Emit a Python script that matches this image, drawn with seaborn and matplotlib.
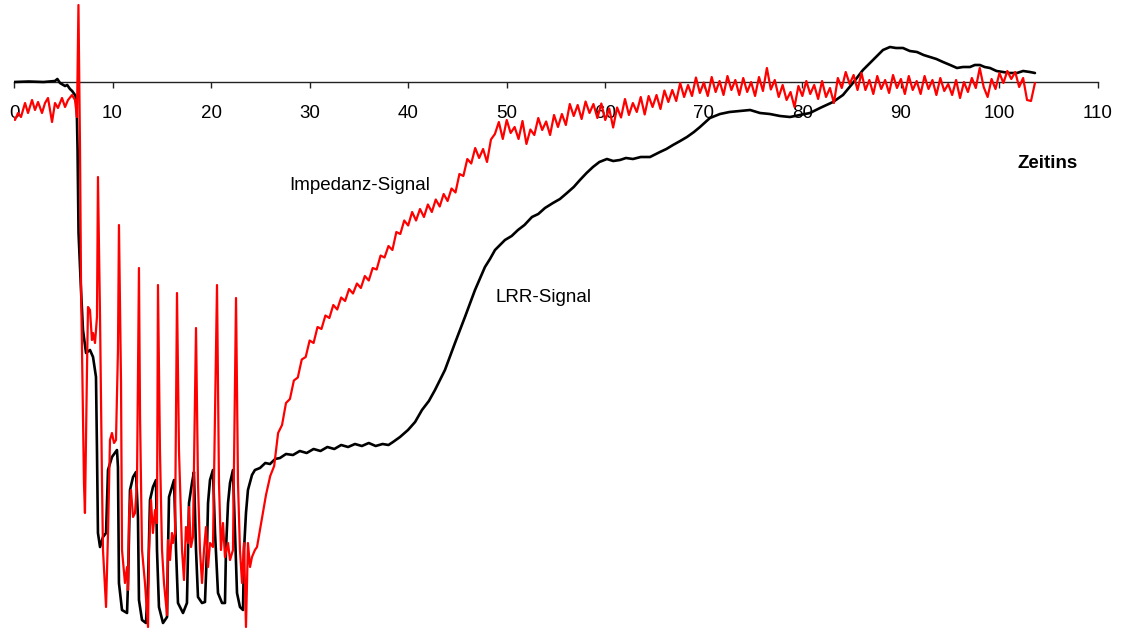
import numpy as np
import pandas as pd
import matplotlib
matplotlib.use("Agg")
import matplotlib.pyplot as plt
import seaborn as sns

# ---------------- data (time in s, signal in relative units) ----------------
lrr_t = [0, 1.5, 3, 4.16, 4.4, 4.67, 5.18, 5.4, 5.68, 5.9, 6.19, 6.35, 6.45, 6.55, 6.8, 7.0,
         7.31, 7.71, 8.02, 8.32, 8.42, 8.52, 8.73, 9.03, 9.34, 9.54, 9.94, 10.45, 10.55, 10.65,
         10.96, 11.47, 11.57, 11.77, 12.08, 12.38, 12.58, 12.68, 12.99, 13.39, 13.60, 13.80,
         14.10, 14.41, 14.51, 14.71, 15.12, 15.53, 15.63, 15.73, 16.03, 16.24, 16.44, 16.64,
         17.15, 17.55, 17.66, 17.76, 18.06, 18.26, 18.47, 18.67, 19.08, 19.38, 19.58, 19.69,
         19.89, 20.19, 20.40, 20.70, 21.11, 21.41, 21.51, 21.72, 21.92, 22.22, 22.43, 22.63,
         22.93, 23.24, 23.34, 23.54, 23.74, 24.15, 24.45, 24.96, 25.5, 25.98, 26.5, 26.99,
         27.6, 28.31, 29.0, 29.7, 30.4, 31.1, 31.8, 32.5, 33.2, 33.9, 34.6, 35.3, 36.0, 36.7,
         37.4, 38.0, 38.46, 39.17, 39.98, 40.7, 41.40, 42.1, 42.72, 43.73, 44.75, 45.76,
         46.78, 47.79, 48.3, 48.81, 49.82, 50.5, 51.14, 51.8, 52.56, 53.2, 53.88, 54.69,
         55.4, 56.11, 56.8, 57.43, 58.1, 58.75, 59.4, 60.17, 60.8, 61.49, 62.1, 62.81, 63.6,
         64.54, 65.55, 66.2, 66.87, 67.6, 68.29, 69.0, 69.61, 70.62, 71.64, 72.6, 73.67,
         74.7, 75.70, 76.7, 77.73, 78.74, 79.76, 80.77, 81.79, 83.11, 84.12, 85.13, 86.15,
         87.16, 88.18, 88.89, 89.5, 90.21, 90.9, 91.63, 92.3, 92.96, 93.6, 94.27, 95.0,
         95.69, 96.3, 97.01, 97.5, 98.02, 98.5, 99.04, 99.7, 100.36, 101.0, 101.78, 102.4,
         103.09, 103.6]
lrr_v = [0, 0.1, 0, 0.2, 0.6, -0.2, -0.8, -0.6, -1.4, -1.8, -2.6, -3.4, -13.6, -30.2, -41.6, -49.6,
         -54.2, -53.6, -55, -59, -73.6, -90.2, -93, -91, -90.2, -77.6, -75, -73.6, -77, -100.2,
         -105.6, -106.2, -100.2, -81.6, -79, -78, -87, -103.6, -107.6, -108.2, -100.2, -83.6,
         -81, -79.6, -93.6, -105, -108.2, -107, -93.6, -83, -81, -79.6, -93.6, -104.2,
         -106.2, -104.2, -93.6, -84.2, -80.2, -78, -93.6, -103, -104.2, -104, -93.6, -84.2,
         -79.6, -77.6, -90.2, -102.2, -104.2, -104.2, -93.6, -84.2, -80.2, -77.6, -90.2, -102.2,
         -105, -105.6, -93.6, -86.2, -81.6, -78.6, -77.6, -77.2, -76.2, -76.4, -75.4, -75.2,
         -74.4, -74.6, -73.8, -74.2, -73.4, -73.8, -73.0, -73.4, -72.6, -73.0, -72.4, -72.8, -72.2, -72.8,
         -72.4, -72.6, -72, -71, -69.6, -68, -65.6, -63.8, -61.6, -57.6, -52.2, -47,
         -41.6, -37, -35.4, -33.6, -31.6, -30.8, -29.6, -28.6, -27, -26.4, -25.2, -24.2,
         -23.4, -22.2, -21.0, -19.6, -18.2, -17, -16.0, -15.4, -15.8, -15.6, -15.2, -15.4, -15.0,
         -15, -14, -13.4, -12.6, -11.8, -11, -10.0, -9, -7.2, -6.4, -6.0, -5.8,
         -5.6, -6.2, -6.4, -6.8, -7, -6.6, -6.2, -5.2, -4, -2.6, -0.2, 2.4,
         4.4, 6.4, 7, 6.8, 6.8, 6.2, 6, 5.4, 5, 4.6, 4, 3.4,
         2.8, 3.0, 3, 3.4, 3.4, 3.0, 2.8, 2.2, 2, 1.8, 1.8, 2.2,
         2, 1.8]

# Impedance signal: stimulation phase (irregular samples)
imp_t = [0, 0.1, 0.41, 0.71, 1.12, 1.42, 1.83, 2.13, 2.44, 2.84, 3.15, 3.45, 3.86, 4.16, 4.46,
         4.87, 5.18, 5.48, 5.89, 6.19, 6.39, 6.54, 6.70, 6.80, 7.00, 7.10, 7.20, 7.31, 7.41,
         7.51, 7.71, 7.91, 8.02, 8.22, 8.42, 8.52, 8.73, 8.93, 9.03, 9.34, 9.54, 9.74, 9.94,
         10.15, 10.35, 10.55, 10.65, 10.86, 10.96, 11.26, 11.47, 11.57, 11.67, 11.87, 12.08,
         12.28, 12.48, 12.68, 12.79, 12.99, 13.29, 13.60, 13.70, 13.90, 14.10, 14.31, 14.51,
         14.61, 14.81, 15.02, 15.22, 15.53, 15.63, 15.83, 16.03, 16.13, 16.34, 16.54, 16.74,
         17.05, 17.25, 17.45, 17.66, 17.76, 17.96, 18.16, 18.47, 18.67, 18.87, 19.08, 19.28,
         19.48, 19.69, 19.89, 20.19, 20.60, 20.80, 21.0, 21.21, 21.41, 21.72, 21.92, 22.22,
         22.53, 22.73, 22.93, 23.14, 23.34, 23.54, 23.74, 23.95, 24.15, 24.45, 24.66, 24.96,
         25.27, 25.57]
imp_v = [-7.2, -7.6, -6.2, -7, -4.2, -6.2, -3.6, -5.6, -4, -6.2, -4.2, -3.2, -8, -4.2, -5.2,
         -3.2, -5, -3.6, -2.6, -3.6, -7, 15.4, -13.6, -40.2, -67, -80.2, -86.2, -70.2, -57,
         -45, -45.6, -51.6, -50.2, -52.2, -47, -19, -47, -80.2, -93.6, -105, -90.2, -71.6, -70.2,
         -72.2, -71.6, -53.6, -28.6, -60.2, -93.6, -100.2, -97, -101.6, -87, -81.6, -87,
         -86.2, -80.2, -37.2, -67, -93.6, -100.2, -109, -93.6, -83.6, -90.2, -85.6, -88.2,
         -40.6, -73.6, -93.6, -100.2, -106.6, -91.6, -95.6, -90.2, -92.2, -90.2, -42.2, -73.6,
         -93.6, -99.6, -89, -92.2, -85, -93, -91, -49.2, -80.2, -93.6, -100.2, -93.6,
         -89, -97, -92.2, -93, -40.6, -80.2, -93.6, -88.2, -95, -92.2, -95.6, -93.6,
         -43.2, -80.2, -93.6, -100.2, -92.2, -109, -92.2, -97, -95, -93.6, -93, -89.6,
         -86.2, -82.6]

# Impedance signal: recovery phase, sampled every 0.4 s from 26.0 s
imp_tail_start = 26.0
imp_tail_step = 0.4
imp_tail_v = [-78.8, -76.8, -70.2, -68.6, -64.2, -63.4, -59.7, -59.1, -55.5, -55.0,
              -51.7, -52.2, -49.0, -49.4, -46.7, -47.2, -44.6, -45.5, -43.1, -43.8,
              -41.4, -42.3, -40.3, -41.2, -38.8, -39.7, -37.2, -37.5, -34.7, -35.1,
              -32.8, -33.6, -30.0, -30.4, -27.7, -28.7, -26.0, -27.7, -25.4, -27.0,
              -24.5, -26.0, -23.5, -24.9, -22.4, -23.8, -21.3, -22.1, -18.4, -18.8,
              -15.4, -16.3, -13.2, -15.2, -13.4, -16.0, -11.5, -10.4, -8.0, -11.4,
              -7.6, -10.2, -9.0, -11.4, -7.8, -12.4, -9.5, -10.6, -7.2, -9.6,
              -7.9, -10.6, -6.6, -9.0, -6.4, -8.6, -4.4, -6.8, -4.6, -7.4,
              -3.9, -6.2, -4.4, -7.2, -4.3, -7.6, -5.3, -9.1, -5.1, -7.1,
              -3.4, -6.6, -4.2, -6.0, -3.0, -6.5, -2.8, -5.0, -2.6, -5.4,
              -1.7, -4.0, -1.6, -3.8, -0.2, -3.0, -0.6, -2.8, 0.9, -2.2,
              -0.1, -2.8, 1.0, -2.0, 0.2, -2.6, 1.2, -1.6, 0.4, -2.6,
              0.8, -2.0, 0.0, -2.8, 1.0, -1.8, 2.8, -1.5, 0.4, -3.0,
              -0.6, -3.6, -2.0, -5.0, -0.8, -2.8, 0.2, -2.4, -0.6, -3.4,
              0.2, -3.0, -1.2, -4.2, 0.8, -1.2, 2.0, -0.4, 1.4, -1.6,
              1.8, -1.6, 0.4, -2.4, 1.2, -1.4, 0.4, -2.2, 1.4, -1.2,
              0.6, -2.4, 1.2, -1.6, 0.2, -2.4, 1.2, -1.4, 0.4, -2.6,
              0.8, -1.8, -0.4, -2.6, 0.4, -3.2, 0.0, -2.0, 0.8, -1.2,
              2.8, -1.0, -3.0, 0.6, -1.4, 1.8, -0.2, 2.2, 0.6, 2.0,
              -1.0, 0.8, -3.6, -3.8, -0.2]

x_ticks = [0, 10, 20, 30, 40, 50, 60, 70, 80, 90, 100, 110]
label_imp = "Impedanz-Signal"
label_lrr = "LRR-Signal"
x_title = "Zeitins"

# ---------------- build frames ----------------
imp_tail_t = imp_tail_start + imp_tail_step * np.arange(len(imp_tail_v))
df_imp = pd.DataFrame({"t": list(imp_t) + list(imp_tail_t), "v": list(imp_v) + list(imp_tail_v)})
df_lrr = pd.DataFrame({"t": lrr_t, "v": lrr_v})

# ---------------- plot ----------------
sns.set_theme(style="white")
plt.rcParams["font.family"] = ["Liberation Sans", "DejaVu Sans"]

fig = plt.figure(figsize=(11.25, 6.29), dpi=100)
ax = fig.add_axes([14 / 1125, 0, 1084 / 1125, 1])

sns.lineplot(data=df_lrr, x="t", y="v", ax=ax, color="black", linewidth=1.9,
             sort=False, estimator=None)
sns.lineplot(data=df_imp, x="t", y="v", ax=ax, color="#ff0000", linewidth=1.6,
             sort=False, estimator=None)

ax.set_xlim(0, 110)
ax.set_ylim(-109.4, 16.4)
ax.set_xticks(x_ticks)
ax.set_xticklabels([str(v) for v in x_ticks])
ax.set_yticks([])
ax.set_xlabel("")
ax.set_ylabel("")
ax.patch.set_alpha(0)

for s in ["left", "right", "top"]:
    ax.spines[s].set_visible(False)
ax.spines["bottom"].set_position(("data", 0))
ax.spines["bottom"].set_color("#222222")
ax.spines["bottom"].set_linewidth(1.0)
ax.spines["bottom"].set_zorder(1)
ax.tick_params(axis="x", direction="out", length=4.5, width=1.0, color="#222222",
               labelsize=13.5, labelcolor="black", pad=12.2, bottom=True)
ax.set_axisbelow(True)

ax.text(27.9, -20.6, label_imp, fontsize=13.5, ha="left", va="center", color="black")
ax.text(48.9, -43.0, label_lrr, fontsize=13.5, ha="left", va="center", color="black")
ax.text(101.8, -16.2, x_title, fontsize=13.5, fontweight="bold", ha="left", va="center",
        color="black")

fig.savefig("out.png", dpi=100)
